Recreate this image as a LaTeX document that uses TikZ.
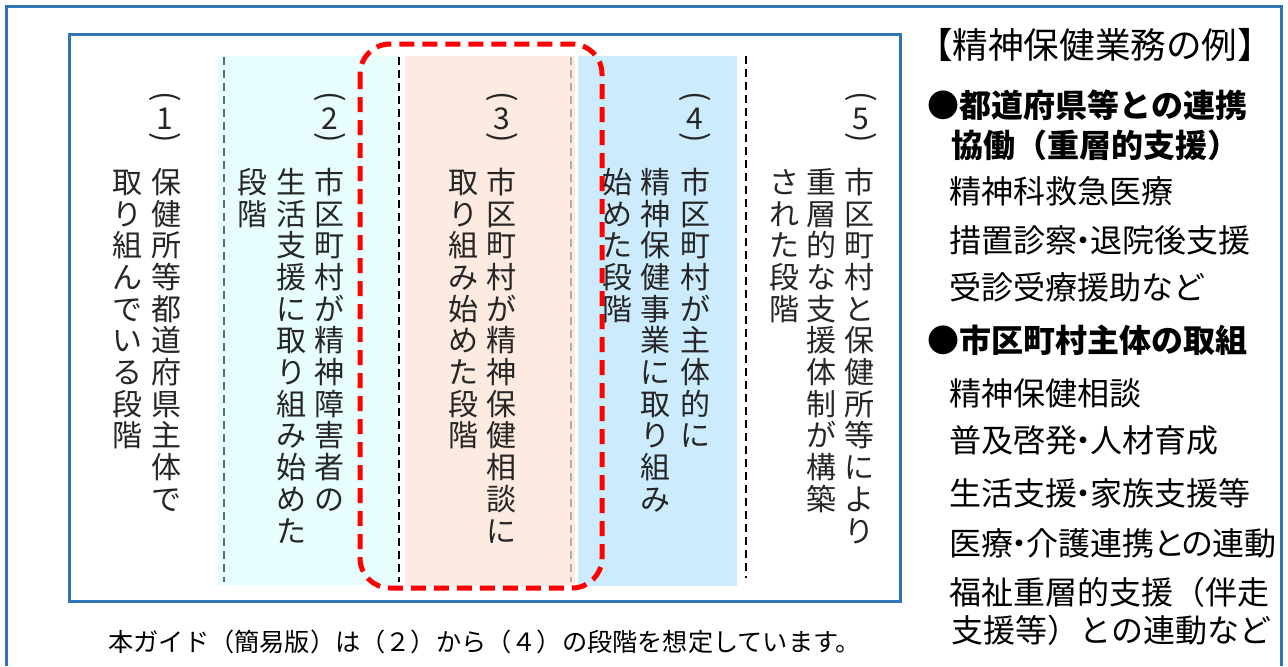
\documentclass[tikz,border=0pt]{standalone}
\usepackage{fontspec}
\newfontfamily\jp{Noto Sans CJK JP}
\newfontfamily\jpprop[RawFeature=+palt]{Noto Sans CJK JP}
\definecolor{frameblue}{HTML}{2E75B6}
\definecolor{cyanfill}{HTML}{E8FEFE}
\definecolor{peachfill}{HTML}{FDEBE1}
\definecolor{skyfill}{HTML}{CCEBFD}
\definecolor{inkgray}{HTML}{262626}
\definecolor{sepgray}{HTML}{5F6B6B}
\definecolor{seplight}{HTML}{B4ABA5}
\newcommand{\tatefont}{\jp\fontsize{15pt}{16pt}\selectfont}
\newcommand{\itemfont}{\jp\fontsize{16pt}{18pt}\selectfont}
\newcommand{\tatepitch}{15.85pt}
% one character per row, for vertical writing
\def\tatestep#1{\ifx\relax#1\else\hbox to 1em{\hss\vrule height .88em depth .12em width 0pt #1\hss}\kern\dimexpr\tatepitch-1em\relax\expandafter\tatestep\fi}
\newcommand{\tate}[1]{\vbox{\offinterlineskip\tatestep#1\relax}}
\newcommand{\nkg}{\kern-.3em・\kern-.3em}
\tikzset{
  frame/.style={draw=frameblue, line width=1.5pt},
  sepline/.style={line width=.8pt, dash pattern=on 4pt off 2.5pt},
  focus/.style={draw=red, line width=2.5pt, rounded corners=15pt, dash pattern=on 7.5pt off 4pt},
  tatecol/.style={anchor=north, inner sep=0pt, font=\tatefont, text=inkgray},
  stageno/.style={inner sep=0pt, font=\tatefont, text=inkgray},
  paren/.style={inner sep=0pt, rotate=-90, font=\jp\fontsize{15.5pt}{17pt}\selectfont, text=inkgray},
  item/.style={anchor=west, inner sep=0pt, font=\itemfont},
  itembold/.style={anchor=west, inner sep=0pt, font=\itemfont\bfseries},
}
\begin{document}
\begin{tikzpicture}[x=0.5pt,y=-0.5pt]
\useasboundingbox (0,0) rectangle (1288,666);
% frames
\draw[frame] (6,666) -- (6,6) -- (1281,6) -- (1281,666);
\draw[frame] (69.5,34.5) rectangle (900.5,601);
% stage backgrounds
\fill[cyanfill] (218,56) rectangle (397,586);
\fill[peachfill] (405,56) rectangle (575,586);
\fill[skyfill] (578,56) rectangle (737,586);
% separators
\draw[sepline, draw=sepgray] (224,57) -- (224,582);
\draw[sepline] (399,57) -- (399,582);
\draw[sepline, draw=seplight] (571,57) -- (571,582);
\draw[sepline] (746,56) -- (746,578);
% stages (2) to (4)
\draw[focus] (360,44) rectangle (602,588);

% stage numbers
\foreach \x/\n in {165/1,330/2,502/3,695/4,861/5}{
  \node[stageno] (no\n) at (\x,118.5) {\n};
  \node[paren] (open\n) at (\x,97) {(};
  \node[paren] (close\n) at (\x,138) {)};
}

% stage texts, right to left
\node[tatecol] (t1a) at (166,166.5) {\tate{保健所等都道府県主体で}};
\node[tatecol] (t1b) at (127.5,166.5) {\tate{取り組んでいる段階}};
\node[tatecol] (t2a) at (329,166.5) {\tate{市区町村が精神障害者の}};
\node[tatecol] (t2b) at (291,166.5) {\tate{生活支援に取り組み始めた}};
\node[tatecol] (t2c) at (252.5,166.5) {\tate{段階}};
\node[tatecol] (t3a) at (501,166.5) {\tate{市区町村が精神保健相談に}};
\node[tatecol] (t3b) at (463,166.5) {\tate{取り組み始めた段階}};
\node[tatecol] (t4a) at (695,166.5) {\tate{市区町村が主体的に}};
\node[tatecol] (t4b) at (655,166.5) {\tate{精神保健事業に取り組み}};
\node[tatecol] (t4c) at (617,166.5) {\tate{始めた段階}};
\node[tatecol] (t5a) at (859,166.5) {\tate{市区町村と保健所等により}};
\node[tatecol] (t5b) at (821,166.5) {\tate{重層的な支援体制が構築}};
\node[tatecol] (t5c) at (784.5,166.5) {\tate{された段階}};

\node[inner sep=0pt, font=\jp\fontsize{12.6pt}{14pt}\selectfont] (note) at (108,642) [anchor=west]
  {本ガイド（簡易版）は（２）から（４）の段階を想定しています。};

% examples of the work
\node[inner sep=0pt, font=\jp\fontsize{17.8pt}{19pt}\selectfont] (head) at (1095,45) {【精神保健業務の例】};
\node[itembold] (pref) at (927,105) {●都道府県等との連携};
\node[itembold] (pref2) at (951,145) {協働（重層的支援）};
\node[item] (p1) at (949,191) {精神科救急医療};
\node[item] (p2) at (949,240) {措置診察\nkg 退院後支援};
\node[item] (p3) at (949,287) {受診受療援助など};
\node[itembold] (muni) at (927,340) {●市区町村主体の取組};
\node[item] (m1) at (949,393) {精神保健相談};
\node[item] (m2) at (949,440) {普及啓発\nkg 人材育成};
\node[item] (m3) at (949,493) {生活支援\nkg 家族支援等};
\node[item] (m4) at (949,543) {医療\nkg 介護連携{\jpprop との}連動};
\node[item] (m5) at (949,592) {福祉重層的支援（伴走};
\node[item] (m6) at (951,630) {支援等）との連動など};
\end{tikzpicture}
\end{document}
